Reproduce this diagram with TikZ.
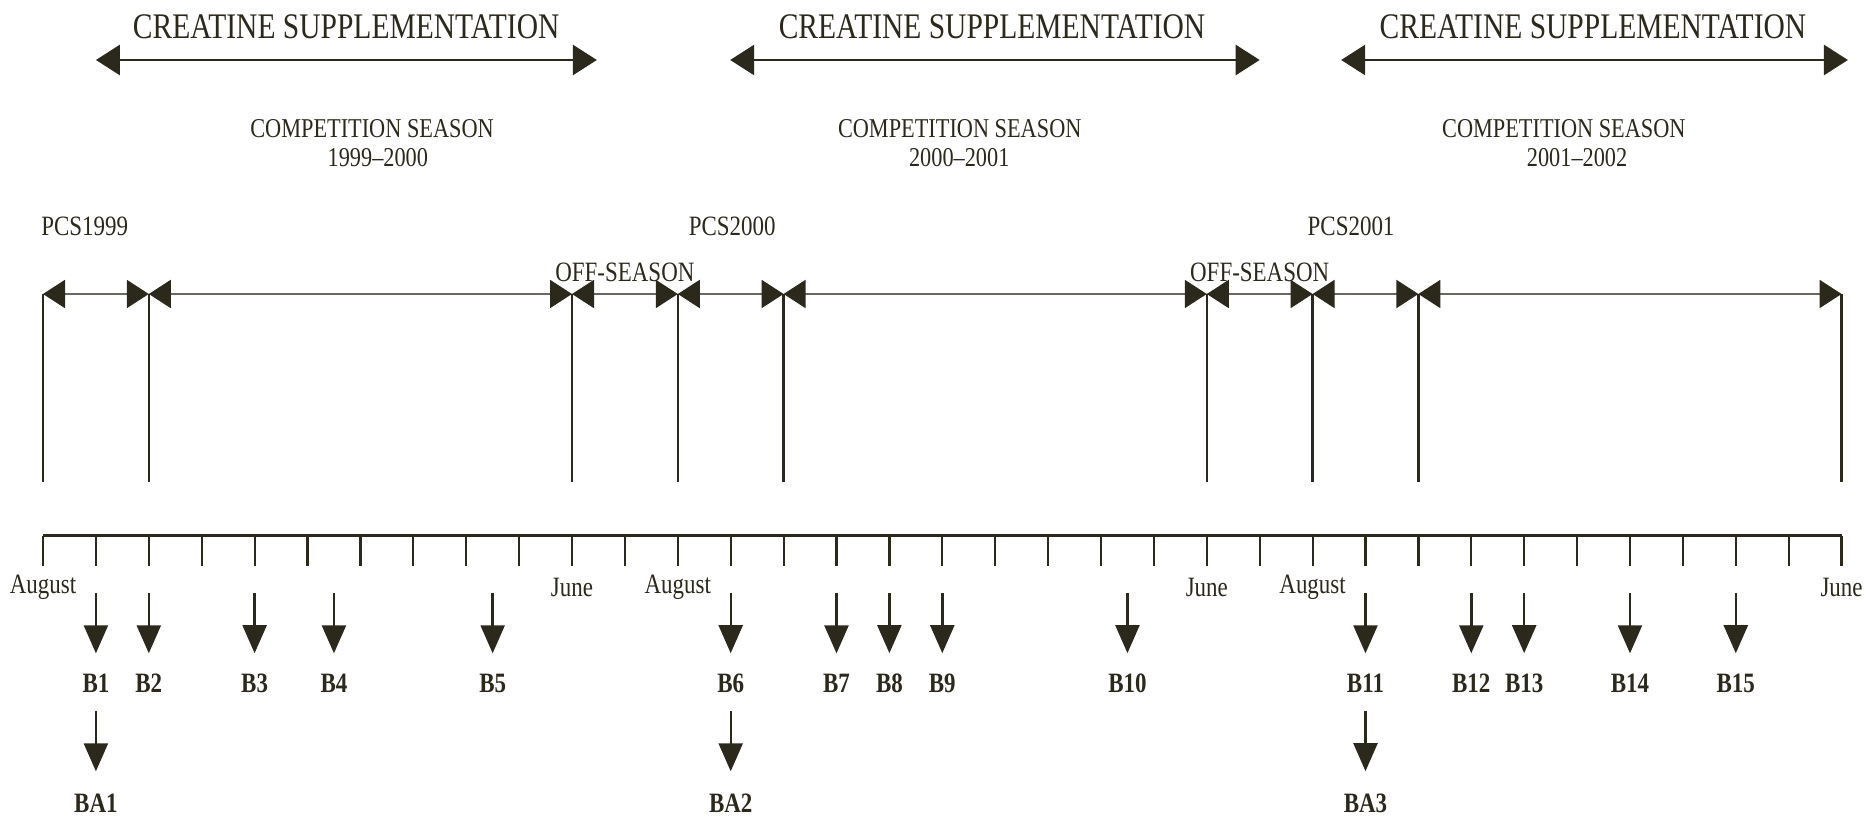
\documentclass[tikz,border=0pt]{standalone}
\usepackage{fontspec}
\setmainfont{Liberation Serif}[FakeStretch=0.82]
\usepackage{xcolor}
\usepackage{tikz}
\usetikzlibrary{arrows.meta}
\definecolor{ink}{RGB}{43,40,28}

\begin{document}
\begin{tikzpicture}[x=26.45pt, y=-0.5pt,
    every node/.style={text=ink, inner sep=0pt},
    txt/.style={font=\fontsize{14}{16}\selectfont},
    btxt/.style={font=\fontsize{14}{16}\selectfont\bfseries},
    headline/.style={font=\fontsize{18}{20}\selectfont},
    seasonline/.style={font=\fontsize{13.6}{16}\selectfont},
    supply/.style={draw=ink, line width=1.3pt, {Triangle[length=12pt,width=15pt]}-{Triangle[length=12pt,width=15pt]}},
    period/.style={draw=ink!70, line width=1pt, {Triangle[length=11pt,width=14pt,color=ink]}-{Triangle[length=11pt,width=14pt,color=ink]}},
    marker/.style={draw=ink, line width=1.2pt},
    sample/.style={draw=ink, line width=1.2pt, -{Triangle[length=14pt,width=12pt]}}]
    \useasboundingbox (-0.813,0) rectangle (34.575,818);

    % Supplementation periods
    \node[headline] (supA) at (5.73,27) {CREATINE SUPPLEMENTATION};
    \node[headline] (supB) at (17.94,27) {CREATINE SUPPLEMENTATION};
    \node[headline] (supC) at (29.30,27) {CREATINE SUPPLEMENTATION};
    \coordinate (supAl) at (1.00,60);   \coordinate (supAr) at (10.47,60);
    \coordinate (supBl) at (12.99,60);  \coordinate (supBr) at (23.00,60);
    \coordinate (supCl) at (24.54,60);  \coordinate (supCr) at (34.12,60);
    \draw[supply] (supAl) -- (supAr);
    \draw[supply] (supBl) -- (supBr);
    \draw[supply] (supCl) -- (supCr);

    % Competition seasons
    \node[seasonline] (compA) at (6.22,129) {COMPETITION SEASON};
    \node[seasonline] (yearA) at (6.33,158) {1999–2000};
    \node[seasonline] (compB) at (17.33,129) {COMPETITION SEASON};
    \node[seasonline] (yearB) at (17.32,158) {2000–2001};
    \node[seasonline] (compC) at (28.75,129) {COMPETITION SEASON};
    \node[seasonline] (yearC) at (29.00,158) {2001–2002};

    % Pre-competition labels and off-season
    \node[txt, anchor=west] (pcsA) at (-0.04,226) {PCS1999};
    \node[txt, anchor=west] (pcsB) at (12.20,226) {PCS2000};
    \node[txt, anchor=west] (pcsC) at (23.90,226) {PCS2001};
    \node[txt] (offA) at (11,272) {OFF-SEASON};
    \node[txt] (offB) at (23,272) {OFF-SEASON};

    % Period boundaries
    \foreach \m in {0,2,10,12,14,22,24,26,34} {
        \coordinate (top\m) at (\m,294);
        \coordinate (bot\m) at (\m,482);
        \draw[marker] (top\m) -- (bot\m);
    }
    \draw[period] (top0) -- (top2);
    \draw[period] (top2) -- (top10);
    \draw[period] (top10) -- (top12);
    \draw[period] (top12) -- (top14);
    \draw[period] (top14) -- (top22);
    \draw[period] (top22) -- (top24);
    \draw[period] (top24) -- (top26);
    \draw[period] (top26) -- (top34);

    % Month axis
    \coordinate (ax0) at (0,536);
    \coordinate (ax34) at (34,536);
    \draw[ink, line width=1.5pt] (ax0) -- (ax34);
    \foreach \m in {0,...,34}
        \draw[ink, line width=1.1pt] (\m,536) -- (\m,566);
    \node[txt] (augA) at (0,587) {August};
    \node[txt] (junA) at (10,587) {June};
    \node[txt] (augB) at (12,587) {August};
    \node[txt] (junB) at (22,587) {June};
    \node[txt] (augC) at (24,587) {August};
    \node[txt] (junC) at (34,587) {June};

    % Blood samples
    \foreach \n/\m in {1/1,2/2,3/4,4/5.5,5/8.5,6/13,7/15,8/16,9/17,10/20.5,11/25,12/27,13/28,14/30,15/32} {
        \coordinate (bt\n) at (\m,593);
        \node[btxt] (b\n) at (\m,683) {B\n};
        \draw[sample, shorten >=10pt] (bt\n) -- (b\n);
    }
    \node[btxt] (ba1) at (1,803) {BA1};
    \node[btxt] (ba2) at (13,803) {BA2};
    \node[btxt] (ba3) at (25,803) {BA3};
    \draw[sample, shorten <=9pt, shorten >=11pt] (b1) -- (ba1);
    \draw[sample, shorten <=9pt, shorten >=11pt] (b6) -- (ba2);
    \draw[sample, shorten <=9pt, shorten >=11pt] (b11) -- (ba3);
\end{tikzpicture}
\end{document}
